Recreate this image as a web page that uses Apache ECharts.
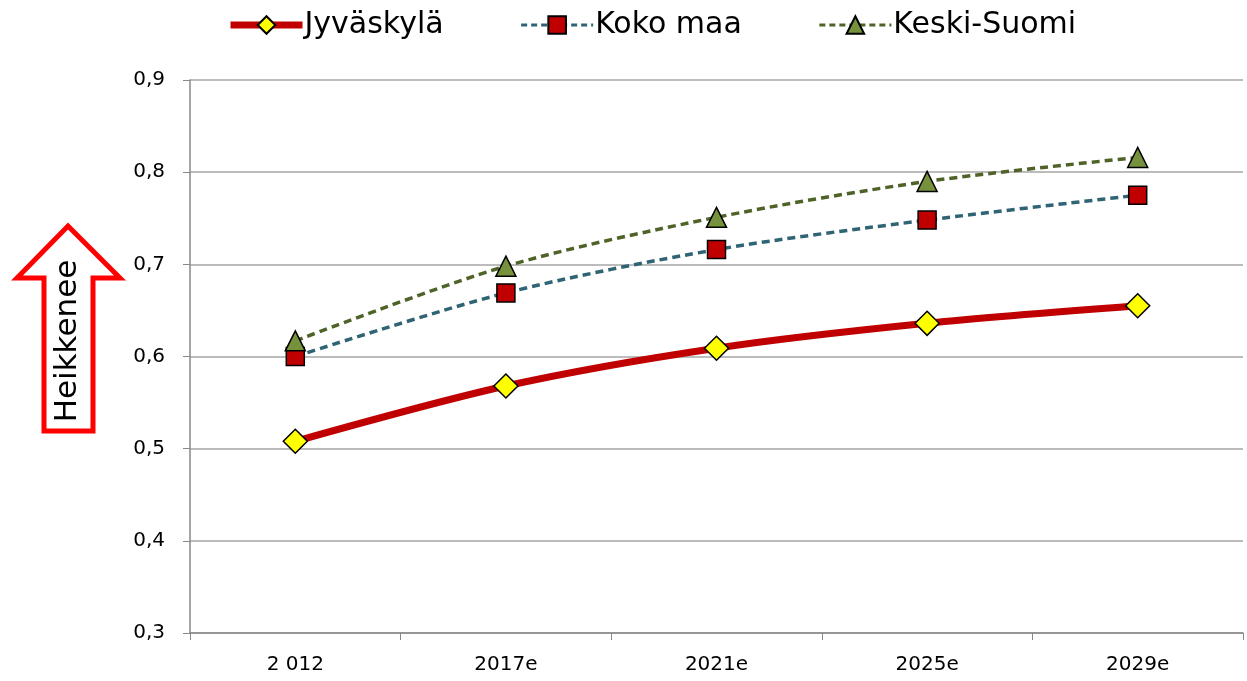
<!DOCTYPE html>
<html><head><meta charset="utf-8">
<script src="https://cdn.jsdelivr.net/npm/echarts@6/dist/echarts.min.js"></script>
<style>html,body{margin:0;padding:0;background:#fff}#c{width:1247px;height:681px}</style>
</head><body><div id="c"></div>
<script>
const categories = ['2 012', '2017e', '2021e', '2025e', '2029e'];
const jyvaskyla = [0.508, 0.568, 0.609, 0.636, 0.655];
const kokoMaa = [0.600, 0.669, 0.716, 0.748, 0.775];
const keskiSuomi = [0.617, 0.698, 0.751, 0.790, 0.816];
const yTicks = {min: 0.3, max: 0.9, interval: 0.1};

const FONT = "'DejaVu Sans', sans-serif";
const chart = echarts.init(document.getElementById('c'));
chart.setOption({
  animation: false,
  textStyle: {fontFamily: FONT},
  grid: {left: 190, right: 4, top: 80, bottom: 48, containLabel: false},
  legend: {
    top: 5, left: 222, itemWidth: 72, itemHeight: 22, itemGap: 76,
    textStyle: {fontSize: 30, color: '#000', fontFamily: FONT, padding: [0, 0, 0, -3]},
    data: [
      {name: 'Jyväskylä', lineStyle: {width: 7, color: '#C00000'}},
      {name: 'Koko maa', lineStyle: {width: 3, color: '#2F6474', type: [6, 4]}},
      {name: 'Keski-Suomi', lineStyle: {width: 3, color: '#4F6228', type: [6, 4]}}
    ]
  },
  xAxis: {
    type: 'category', data: categories, boundaryGap: true,
    axisLine: {lineStyle: {color: '#898989', width: 1.5}},
    axisTick: {show: true, length: 7, lineStyle: {color: '#898989'}},
    axisLabel: {fontSize: 20, color: '#000', margin: 22, fontFamily: FONT}
  },
  yAxis: {
    type: 'value', min: yTicks.min, max: yTicks.max, interval: yTicks.interval,
    axisLine: {show: true, lineStyle: {color: '#898989', width: 1.5}},
    axisTick: {show: true, length: 7, inside: false, lineStyle: {color: '#898989'}},
    splitLine: {lineStyle: {color: '#a6a6a6', width: 1.5}},
    axisLabel: {fontSize: 20, color: '#000', margin: 25, fontFamily: FONT,
      formatter: v => v.toFixed(1).replace('.', ',')}
  },
  series: [
    {name: 'Jyväskylä', type: 'line', data: jyvaskyla, smooth: 0.3, z: 3,
     lineStyle: {color: '#C00000', width: 7},
     symbol: 'diamond', symbolSize: [24, 24], itemStyle: {color: '#FFFF00', borderColor: '#000', borderWidth: 1.5}},
    {name: 'Koko maa', type: 'line', data: kokoMaa, smooth: 0.3, z: 2,
     lineStyle: {color: '#2F6474', width: 3.5, type: [8, 5]},
     symbol: 'rect', symbolSize: [18, 18], itemStyle: {color: '#C00000', borderColor: '#000', borderWidth: 1.5}},
    {name: 'Keski-Suomi', type: 'line', data: keskiSuomi, smooth: 0.3, z: 2,
     lineStyle: {color: '#4F6228', width: 3.5, type: [8, 5]},
     symbol: 'triangle', symbolSize: [20, 20], itemStyle: {color: '#76923C', borderColor: '#000', borderWidth: 1.5}}
  ],
  graphic: [
    {type: 'polygon', z: 10,
     shape: {points: [[68, 226], [120, 278], [93, 278], [93, 431], [44, 431], [44, 278], [17, 278]]},
     style: {fill: '#fff', stroke: '#FF0000', lineWidth: 5}},
    {type: 'text', z: 11, x: 68, y: 341, rotation: Math.PI / 2,
     style: {text: 'Heikkenee', fontSize: 31, fontFamily: FONT, fill: '#000', align: 'center', verticalAlign: 'middle'}}
  ]
});
</script></body></html>
